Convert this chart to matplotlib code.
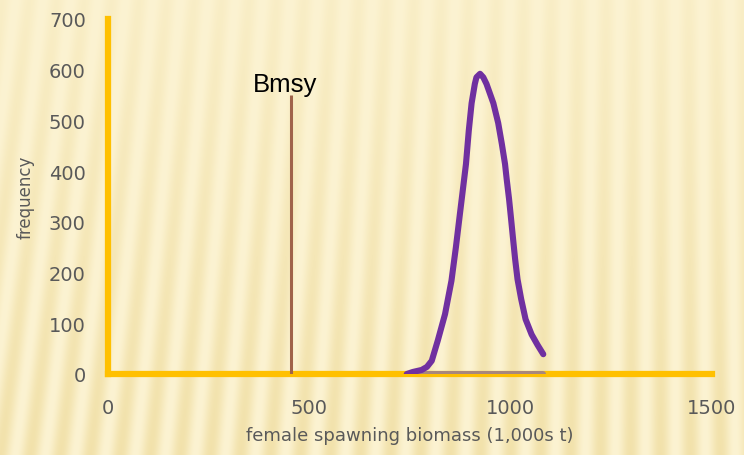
import numpy as np
import matplotlib.pyplot as plt

# values
biomass = [742, 757, 779, 792, 804, 819, 837, 853, 864, 874, 880, 889, 896, 903, 911, 915, 924,
           932, 940, 957, 969, 978, 986, 990, 996, 1001, 1006, 1011, 1017, 1026, 1037,
           1052, 1067, 1081]
frequency = [0, 4, 8, 14, 26, 66, 118, 184, 250, 316, 355, 414, 480, 534, 572, 585, 592,
             585, 572, 534, 495, 454, 414, 385, 345, 306, 266, 227, 187, 148, 108,
             78, 57, 39]
bmsy = 454
bmsy_top = 550
base_range = [750, 1080]

xticks = [0, 500, 1000, 1500]
yticks = [0, 100, 200, 300, 400, 500, 600, 700]

W, H = 744, 456

# striped beige background
yy, xx = np.mgrid[0:H, 0:W]
phase = (xx + 0.15 * (H - yy) * (xx / W - 0.9)) / 30.0
s = 0.5 + 0.5 * np.cos(2 * np.pi * phase)
light = np.array([252, 243, 210]) / 255
dark = np.array([238, 219, 156]) / 255
shade = 0.22 + 0.5 * (yy / H)
w = (s * shade)[..., None]
img = light * (1 - w) + dark * w

fig = plt.figure(figsize=(W / 100, H / 100), dpi=100)
bg = fig.add_axes([0, 0, 1, 1])
bg.imshow(img, aspect='auto')
bg.axis('off')

ax = fig.add_axes([108 / W, 81 / H, 604 / W, 355 / H])
ax.patch.set_alpha(0)

gold = '#FFC000'
grey = '#595959'

ax.plot(base_range, [0, 0], color='#A8877C', lw=4.3, solid_capstyle='round', zorder=4)
ax.plot(biomass, frequency, color='#7030A0', lw=4.4, solid_capstyle='round',
        solid_joinstyle='round', zorder=5)
ax.vlines(bmsy, 0, bmsy_top, color='#A0634A', lw=2.2, zorder=3)
ax.text(359, 559, 'Bmsy', fontsize=18.5, family='Liberation Sans', color='black',
        ha='left', va='baseline')

ax.set_xlim(0, 1500)
ax.set_ylim(0, 700)
ax.set_xticks(xticks)
ax.set_yticks(yticks)
for sp in ['top', 'right']:
    ax.spines[sp].set_visible(False)
for sp in ['left', 'bottom']:
    ax.spines[sp].set_color(gold)
    ax.spines[sp].set_linewidth(4.5)
    ax.spines[sp].set_zorder(2)
ax.tick_params(length=0, labelsize=14, labelcolor=grey)
ax.tick_params(axis='y', pad=16)
ax.tick_params(axis='x', pad=17)

ax.set_xlabel('female spawning biomass (1,000s t)', fontsize=13, color=grey, labelpad=7)
ax.set_ylabel('frequency', fontsize=12, color=grey, labelpad=10)

fig.savefig('out.png', dpi=100)
